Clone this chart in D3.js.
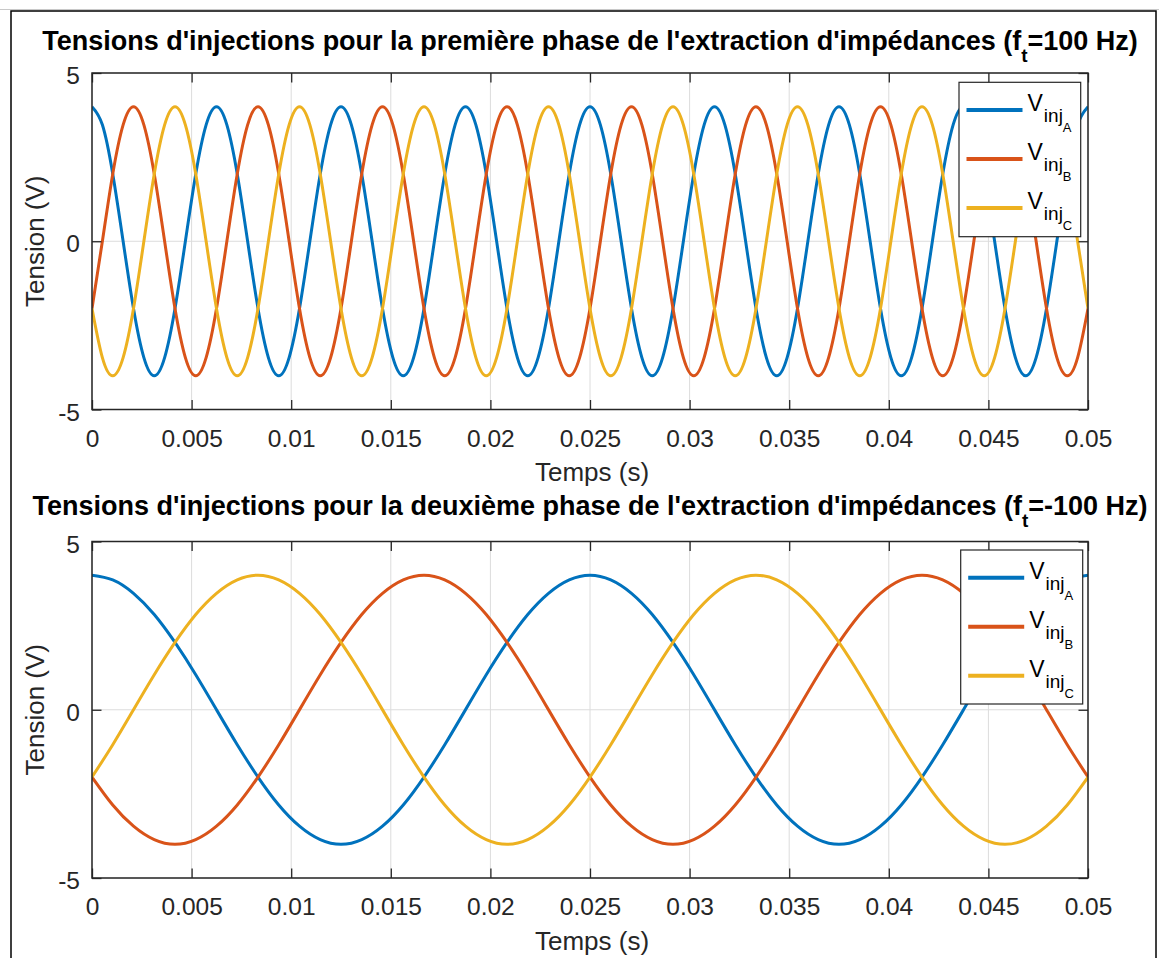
<!DOCTYPE html>
<html><head><meta charset="utf-8">
<script src="https://cdn.jsdelivr.net/npm/d3@7"></script>
<style>
body{margin:0;background:#fff}
text{font-family:"Liberation Sans",Arial,Helvetica,sans-serif}
</style>
</head><body><svg id="c" width="1159" height="958"></svg>
<script>
// ---------- data ----------
const seriesKeys = ["A", "B", "C"];
const seriesColors = ["#0072BD", "#D95319", "#EDB120"];
const xTicks = [0, 0.005, 0.01, 0.015, 0.02, 0.025, 0.03, 0.035, 0.04, 0.045, 0.05];
const xTickLabels = ["0", "0.005", "0.01", "0.015", "0.02", "0.025", "0.03", "0.035", "0.04", "0.045", "0.05"];
const yTicks = [-5, 0, 5];
const yTickLabels = ["-5", "0", "5"];
const titleMain = ["Tensions d'injections pour la première phase de l'extraction d'impédances (f",
                   "Tensions d'injections pour la deuxième phase de l'extraction d'impédances (f"];
const titleTail = ["=100 Hz)", "=-100 Hz)"];
const xLabel = "Temps (s)";
const yLabel = "Tension (V)";

// sample times (s)
const timeTop = d3.range(97).map(i => i * 0.00625 / 12);
const timeBottom = d3.range(49).map(i => i * 0.025 / 24);

const topA = [
 4,3.46,2,0,-2,-3.46,-4,-3.46,-2,0,2,3.46,
 4,3.46,2,0,-2,-3.46,-4,-3.46,-2,0,2,3.46,
 4,3.46,2,0,-2,-3.46,-4,-3.46,-2,0,2,3.46,
 4,3.46,2,0,-2,-3.46,-4,-3.46,-2,0,2,3.46,
 4,3.46,2,0,-2,-3.46,-4,-3.46,-2,0,2,3.46,
 4,3.46,2,0,-2,-3.46,-4,-3.46,-2,0,2,3.46,
 4,3.46,2,0,-2,-3.46,-4,-3.46,-2,0,2,3.46,
 4,3.46,2,0,-2,-3.46,-4,-3.46,-2,0,2,3.46,
 4];
const topB = [
 -2,0,2,3.46,4,3.46,2,0,-2,-3.46,-4,-3.46,
 -2,0,2,3.46,4,3.46,2,0,-2,-3.46,-4,-3.46,
 -2,0,2,3.46,4,3.46,2,0,-2,-3.46,-4,-3.46,
 -2,0,2,3.46,4,3.46,2,0,-2,-3.46,-4,-3.46,
 -2,0,2,3.46,4,3.46,2,0,-2,-3.46,-4,-3.46,
 -2,0,2,3.46,4,3.46,2,0,-2,-3.46,-4,-3.46,
 -2,0,2,3.46,4,3.46,2,0,-2,-3.46,-4,-3.46,
 -2,0,2,3.46,4,3.46,2,0,-2,-3.46,-4,-3.46,
 -2];
const topC = [
 -2,-3.46,-4,-3.46,-2,0,2,3.46,4,3.46,2,0,
 -2,-3.46,-4,-3.46,-2,0,2,3.46,4,3.46,2,0,
 -2,-3.46,-4,-3.46,-2,0,2,3.46,4,3.46,2,0,
 -2,-3.46,-4,-3.46,-2,0,2,3.46,4,3.46,2,0,
 -2,-3.46,-4,-3.46,-2,0,2,3.46,4,3.46,2,0,
 -2,-3.46,-4,-3.46,-2,0,2,3.46,4,3.46,2,0,
 -2,-3.46,-4,-3.46,-2,0,2,3.46,4,3.46,2,0,
 -2,-3.46,-4,-3.46,-2,0,2,3.46,4,3.46,2,0,
 -2];
const bottomA = [
 4,3.86,3.46,2.83,2,1.04,0,-1.04,-2,-2.83,-3.46,-3.86,-4,-3.86,-3.46,-2.83,-2,-1.04,0,1.04,2,2.83,3.46,3.86,
 4,3.86,3.46,2.83,2,1.04,0,-1.04,-2,-2.83,-3.46,-3.86,-4,-3.86,-3.46,-2.83,-2,-1.04,0,1.04,2,2.83,3.46,3.86,
 4];
const bottomB = [
 -2,-2.83,-3.46,-3.86,-4,-3.86,-3.46,-2.83,-2,-1.04,0,1.04,2,2.83,3.46,3.86,4,3.86,3.46,2.83,2,1.04,0,-1.04,
 -2,-2.83,-3.46,-3.86,-4,-3.86,-3.46,-2.83,-2,-1.04,0,1.04,2,2.83,3.46,3.86,4,3.86,3.46,2.83,2,1.04,0,-1.04,
 -2];
const bottomC = [
 -2,-1.04,0,1.04,2,2.83,3.46,3.86,4,3.86,3.46,2.83,2,1.04,0,-1.04,-2,-2.83,-3.46,-3.86,-4,-3.86,-3.46,-2.83,
 -2,-1.04,0,1.04,2,2.83,3.46,3.86,4,3.86,3.46,2.83,2,1.04,0,-1.04,-2,-2.83,-3.46,-3.86,-4,-3.86,-3.46,-2.83,
 -2];

// ---------- layout ----------
const svg = d3.select("#c");
const W = 1159, H = 958;
svg.append("rect").attr("width", W).attr("height", H).attr("fill", "#fff");
svg.append("line").attr("x1", 0).attr("x2", W).attr("y1", 9.5).attr("y2", 9.5)
   .attr("stroke", "#c8c8c8").attr("stroke-width", 1);
svg.append("rect").attr("x", 11).attr("y", 11).attr("width", 1145).attr("height", 1000)
   .attr("fill", "none").attr("stroke", "#000").attr("stroke-width", 1.5);

const TXT = "#262626";
const panels = [
  {top: 73, bottom: 409.5, titleY: 50, time: timeTop, data: [topA, topB, topC],
   legend: {x: 959, y: 82.3, w: 121.7, h: 154.4}},
  {top: 541.5, bottom: 878, titleY: 515, time: timeBottom, data: [bottomA, bottomB, bottomC],
   legend: {x: 960.7, y: 550, w: 122, h: 154}}
];
const left = 92, right = 1088;

panels.forEach((p, pi) => {
  const x = d3.scaleLinear().domain([0, 0.05]).range([left, right]);
  const y = d3.scaleLinear().domain([-5, 5]).range([p.bottom, p.top]);
  const g = svg.append("g");
  const clipId = "clip" + pi;
  svg.append("clipPath").attr("id", clipId).append("rect")
     .attr("x", left).attr("y", p.top).attr("width", right - left).attr("height", p.bottom - p.top);

  // grid
  g.append("g").selectAll("line").data(xTicks).join("line")
   .attr("x1", d => x(d)).attr("x2", d => x(d)).attr("y1", p.top).attr("y2", p.bottom)
   .attr("stroke", "#dcdcdc").attr("stroke-width", 1);
  g.append("g").selectAll("line").data(yTicks).join("line")
   .attr("y1", d => y(d)).attr("y2", d => y(d)).attr("x1", left).attr("x2", right)
   .attr("stroke", "#dcdcdc").attr("stroke-width", 1);

  // series
  const line = d3.line().x((d, i) => x(p.time[i])).y(d => y(d)).curve(d3.curveNatural);
  g.append("g").attr("clip-path", `url(#${clipId})`).selectAll("path").data(p.data).join("path")
   .attr("d", d => line(d)).attr("fill", "none")
   .attr("stroke", (d, i) => seriesColors[i]).attr("stroke-width", 3)
   .attr("stroke-linejoin", "round");

  // axes (ticks inward on all four sides)
  const tl = 9.5;
  g.append("g").attr("transform", `translate(0,${p.bottom})`)
   .call(d3.axisBottom(x).tickValues(xTicks).tickSize(-tl).tickFormat((d, i) => xTickLabels[i]).tickPadding(20))
   .call(a => a.select(".domain").remove());
  g.append("g").attr("transform", `translate(0,${p.top})`)
   .call(d3.axisTop(x).tickValues(xTicks).tickSize(-tl).tickFormat(""))
   .call(a => a.select(".domain").remove());
  g.append("g").attr("class", "yax").attr("transform", `translate(${left},0)`)
   .call(d3.axisLeft(y).tickValues(yTicks).tickSize(-tl).tickFormat((d, i) => yTickLabels[i]).tickPadding(12))
   .call(a => a.select(".domain").remove());
  g.append("g").attr("transform", `translate(${right},0)`)
   .call(d3.axisRight(y).tickValues(yTicks).tickSize(-tl).tickFormat(""))
   .call(a => a.select(".domain").remove());
  g.selectAll(".tick line").attr("stroke", TXT).attr("stroke-width", 1.3);
  g.selectAll(".tick text").attr("fill", TXT).attr("font-size", 24.5)
   .attr("font-family", "'Liberation Sans',Arial,Helvetica,sans-serif");
  g.selectAll(".yax .tick text").attr("dy", "0.43em");
  g.append("rect").attr("x", left).attr("y", p.top).attr("width", right - left).attr("height", p.bottom - p.top)
   .attr("fill", "none").attr("stroke", TXT).attr("stroke-width", 1.5);

  // axis labels
  g.append("text").attr("x", (left + right) / 2 + 2).attr("y", p.bottom + 71.5)
   .attr("text-anchor", "middle").attr("font-size", 26).attr("fill", TXT).text(xLabel);
  g.append("text").attr("transform", `translate(44,${(p.top + p.bottom) / 2}) rotate(-90)`)
   .attr("text-anchor", "middle").attr("font-size", 26).attr("fill", TXT).text(yLabel);

  // title
  const t = g.append("text").attr("x", (left + right) / 2).attr("y", p.titleY)
   .attr("text-anchor", "middle").attr("font-size", 27).attr("font-weight", "bold").attr("fill", "#000");
  t.append("tspan").text(titleMain[pi]);
  t.append("tspan").attr("dy", 12).attr("font-size", 19).text("t");
  t.append("tspan").attr("dy", -12).text(titleTail[pi]);

  // legend
  const L = p.legend;
  const lg = g.append("g");
  lg.append("rect").attr("x", L.x).attr("y", L.y).attr("width", L.w).attr("height", L.h)
    .attr("fill", "#fff").attr("stroke", "#262626").attr("stroke-width", 1.2);
  seriesKeys.forEach((k, i) => {
    const ly = L.y + 27.8 + i * 49;
    lg.append("line").attr("x1", L.x + 7.5).attr("x2", L.x + 63.5).attr("y1", ly).attr("y2", ly)
      .attr("stroke", seriesColors[i]).attr("stroke-width", 4);
    const lt = lg.append("text").attr("x", L.x + 68.5).attr("y", ly + 1).attr("fill", "#000").attr("font-size", 23);
    lt.append("tspan").text("V");
    lt.append("tspan").attr("dy", 11).attr("dx", 1).attr("font-size", 19).text("inj");
    lt.append("tspan").attr("dy", 10).attr("font-size", 13).text(k);
  });
});
</script>
</body></html>
